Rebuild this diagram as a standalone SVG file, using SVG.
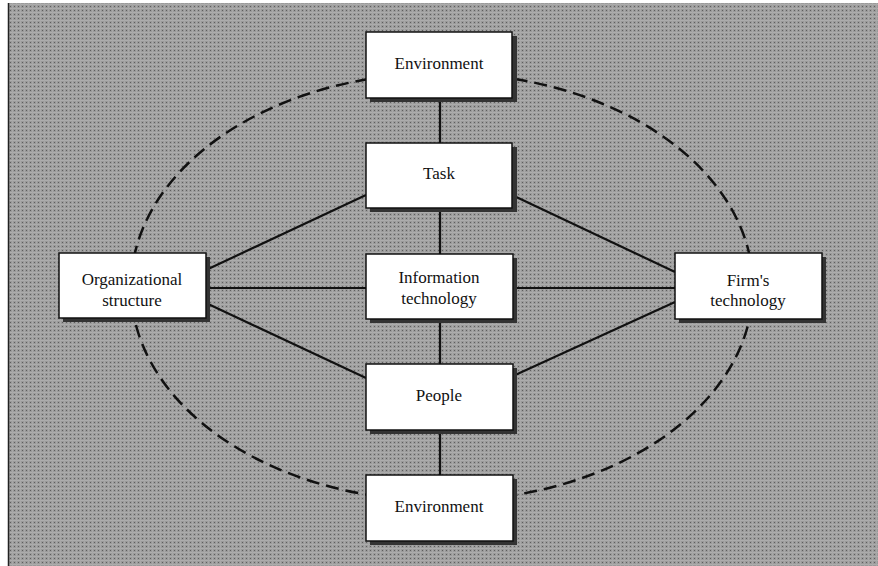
<svg xmlns="http://www.w3.org/2000/svg" width="878" height="566" viewBox="0 0 878 566">
<defs>
<pattern id="tex" width="4" height="4" patternUnits="userSpaceOnUse">
<rect width="4" height="4" fill="#9a9a9a"/>
<rect x="0" y="0" width="4" height="1" fill="#adadad"/>
<rect x="0" y="0" width="1" height="4" fill="#a8a8a8"/>
<rect x="2" y="2" width="1" height="1" fill="#5e5e5e"/>
</pattern>
</defs>
<style>
.box{fill:#ffffff;stroke:#111;stroke-width:1.5}
.sh{fill:#333}
text{font-family:"Liberation Serif","DejaVu Serif","Times New Roman",Times,serif;font-size:17px;fill:#111;text-anchor:middle}
.ln{stroke:#111;stroke-width:2.2;fill:none}
</style>
<rect x="0" y="0" width="878" height="566" fill="#ffffff"/>
<rect x="8" y="3" width="870" height="563" fill="url(#tex)"/>
<line x1="8.5" y1="3" x2="8.5" y2="566" stroke="#222" stroke-width="1.5"/>
<ellipse cx="442" cy="287" rx="311" ry="214" fill="none" stroke="#111" stroke-width="2.5" stroke-dasharray="13 7"/>
<g id="connectors">
<line class="ln" x1="440" y1="98" x2="440" y2="143"/>
<line class="ln" x1="440" y1="208" x2="440" y2="254"/>
<line class="ln" x1="440" y1="319" x2="440" y2="364"/>
<line class="ln" x1="440" y1="430" x2="440" y2="475"/>
<line class="ln" x1="206" y1="270" x2="366" y2="195"/>
<line class="ln" x1="206" y1="288" x2="366" y2="288"/>
<line class="ln" x1="206" y1="303" x2="366" y2="378"/>
<line class="ln" x1="512" y1="195" x2="675" y2="272"/>
<line class="ln" x1="513" y1="288" x2="675" y2="288"/>
<line class="ln" x1="513" y1="376" x2="675" y2="302"/>
</g>
<g id="env-top">
<rect class="sh" x="370" y="36" width="147" height="66"/>
<rect class="box" x="366" y="32" width="146" height="66"/>
<text x="439" y="69" font-family="Liberation Serif, serif">Environment</text>
</g>
<g id="task">
<rect class="sh" x="370" y="147" width="147" height="65"/>
<rect class="box" x="366" y="143" width="146" height="65"/>
<text x="439" y="179" font-family="Liberation Serif, serif">Task</text>
</g>
<g id="org">
<rect class="sh" x="63" y="257" width="147" height="65"/>
<rect class="box" x="59" y="253" width="147" height="65"/>
<text x="132" y="285" font-family="Liberation Serif, serif">Organizational</text>
<text x="132" y="306" font-family="Liberation Serif, serif">structure</text>
</g>
<g id="info">
<rect class="sh" x="370" y="258" width="147" height="65"/>
<rect class="box" x="366" y="254" width="147" height="65"/>
<text x="439" y="283" font-family="Liberation Serif, serif">Information</text>
<text x="439" y="304" font-family="Liberation Serif, serif">technology</text>
</g>
<g id="firm">
<rect class="sh" x="679" y="257" width="147" height="66"/>
<rect class="box" x="675" y="253" width="147" height="66"/>
<text x="748" y="286" font-family="Liberation Serif, serif">Firm's</text>
<text x="748" y="306" font-family="Liberation Serif, serif">technology</text>
</g>
<g id="people">
<rect class="sh" x="370" y="368" width="147" height="66"/>
<rect class="box" x="366" y="364" width="147" height="66"/>
<text x="439" y="401" font-family="Liberation Serif, serif">People</text>
</g>
<g id="env-bottom">
<rect class="sh" x="370" y="479" width="147" height="66"/>
<rect class="box" x="366" y="475" width="147" height="66"/>
<text x="439" y="512" font-family="Liberation Serif, serif">Environment</text>
</g>
</svg>
